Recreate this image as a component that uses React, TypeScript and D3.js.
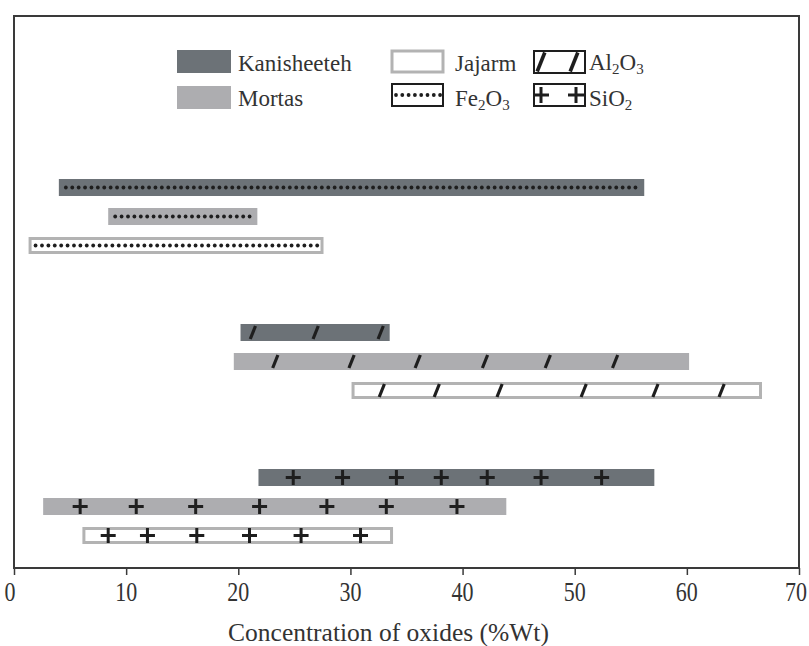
import {useEffect, useRef} from 'react';
import * as d3 from 'd3';

const series = ['Kanisheeteh', 'Mortas', 'Jajarm'];
const oxides = ['Fe2O3', 'Al2O3', 'SiO2'];

// ranges per oxide, in series order (Kanisheeteh, Mortas, Jajarm)
const fe2o3Min = [4.0, 8.4, 1.3];
const fe2o3Max = [56.2, 21.7, 27.6];
const al2o3Min = [20.2, 19.6, 30.1];
const al2o3Max = [33.5, 60.2, 66.7];
const sio2Min = [21.8, 2.6, 6.1];
const sio2Max = [57.1, 43.9, 33.8];

// positions of the pattern marks on the bars (%Wt)
const al2o3Marks = [
  [21.3, 26.9, 32.7],
  [23.3, 30.1, 36.0, 42.0, 47.6, 53.6],
  [32.8, 37.7, 43.3, 50.8, 57.2, 63.1],
];
const sio2Marks = [
  [24.9, 29.3, 34.1, 38.1, 42.2, 47.0, 52.4],
  [5.9, 10.9, 16.2, 21.9, 27.9, 33.2, 39.5],
  [8.4, 11.9, 16.3, 21.0, 25.6, 30.9],
];

const xTicks = [0, 10, 20, 30, 40, 50, 60, 70];

const App = () => {
  const svgRef = useRef<SVGSVGElement>(null);

  useEffect(() => {
    const width = 809;
    const height = 646;
    const frame = {left: 14, top: 16, right: 799, bottom: 568};
    const font = '"Liberation Serif", "Times New Roman", serif';
    const ink = '#1e1e1e';
    const fills = {Kanisheeteh: '#6c7277', Mortas: '#adadb0', Jajarm: '#ffffff'};
    const jajStroke = '#b3b3b3';

    const svg = d3.select(svgRef.current)
      .attr('width', width)
      .attr('height', height);
    svg.selectAll('*').remove();

    svg.append('rect').attr('width', width).attr('height', height).attr('fill', '#fff');

    const x = d3.scaleLinear().domain([0, 70]).range([frame.left, frame.right]);
    const yGroup = d3.scaleBand().domain(oxides).range([144, 579]);
    const yRow = d3.scalePoint().domain(series).range([-29, 29]);
    const barH = 17;

    const rows = [
      {oxide: 'Fe2O3', min: fe2o3Min, max: fe2o3Max, marks: null},
      {oxide: 'Al2O3', min: al2o3Min, max: al2o3Max, marks: al2o3Marks},
      {oxide: 'SiO2', min: sio2Min, max: sio2Max, marks: sio2Marks},
    ];

    const slash = (g, cx, cy, h, w = 3.2) => {
      g.append('line')
        .attr('x1', cx - h * 0.2).attr('y1', cy + h / 2)
        .attr('x2', cx + h * 0.2).attr('y2', cy - h / 2)
        .attr('stroke', ink).attr('stroke-width', w);
    };
    const plus = (g, cx, cy, s) => {
      g.append('path')
        .attr('d', `M${cx - s / 2},${cy}H${cx + s / 2}M${cx},${cy - s / 2}V${cy + s / 2}`)
        .attr('stroke', ink).attr('stroke-width', 3).attr('fill', 'none');
    };
    const dots = (g, x0, x1, cy, step) => {
      d3.range(x0, x1, step).forEach(cx => {
        g.append('circle').attr('cx', cx).attr('cy', cy).attr('r', 1.9).attr('fill', ink);
      });
    };

    const bars = svg.append('g');
    rows.forEach(row => {
      series.forEach((s, i) => {
        const cy = yGroup(row.oxide) + yGroup.bandwidth() / 2 + yRow(s);
        const x0 = x(row.min[i]);
        const x1 = x(row.max[i]);
        if (s === 'Jajarm') {
          bars.append('rect')
            .attr('x', x0 + 1.5).attr('y', cy - barH / 2 + 1.5)
            .attr('width', x1 - x0 - 3).attr('height', barH - 3)
            .attr('fill', fills[s]).attr('stroke', jajStroke).attr('stroke-width', 3);
        } else {
          bars.append('rect')
            .attr('x', x0).attr('y', cy - barH / 2)
            .attr('width', x1 - x0).attr('height', barH)
            .attr('fill', fills[s]);
        }
        if (row.oxide === 'Fe2O3') {
          dots(bars, x0 + 7, x1 - 3, cy, 6.4);
        } else if (row.oxide === 'Al2O3') {
          row.marks[i].forEach(v => slash(bars, x(v), cy, 13));
        } else {
          row.marks[i].forEach(v => plus(bars, x(v), cy, 15));
        }
      });
    });

    // frame
    svg.append('rect')
      .attr('x', frame.left).attr('y', frame.top)
      .attr('width', frame.right - frame.left).attr('height', frame.bottom - frame.top)
      .attr('fill', 'none').attr('stroke', '#3a3a3a').attr('stroke-width', 2);

    // x axis
    const axis = svg.append('g')
      .attr('transform', `translate(0, ${frame.bottom})`)
      .call(d3.axisBottom(x).tickValues(xTicks).tickSize(7).tickSizeOuter(0).tickFormat(''));
    axis.select('.domain').remove();
    axis.selectAll('.tick line').attr('stroke', '#3a3a3a').attr('stroke-width', 1.5);

    svg.append('g').selectAll('text')
      .data(xTicks)
      .enter().append('text')
      .attr('transform', d => {
        const tx = d === 0 ? x(d) - 4 : d === 70 ? x(d) - 3 : x(d);
        return `translate(${tx}, 601) scale(1, 1.22)`;
      })
      .attr('text-anchor', 'middle')
      .style('font-family', font)
      .style('font-size', '22px')
      .attr('fill', '#333')
      .text(d => d);

    svg.append('text')
      .attr('x', (frame.left + frame.right) / 2 - 18)
      .attr('y', 641)
      .attr('text-anchor', 'middle')
      .style('font-family', font)
      .style('font-size', '25.5px')
      .attr('fill', '#333')
      .text('Concentration of oxides (%Wt)');

    // legend
    const legend = svg.append('g');
    const lt = (tx, ty, parts) => {
      const t = legend.append('text')
        .attr('x', tx).attr('y', ty)
        .style('font-family', font).style('font-size', '23px').attr('fill', '#333');
      parts.forEach(p => {
        const sp = t.append('tspan').text(p.t);
        if (p.sub) sp.style('font-size', '15px').attr('dy', 4);
        else if (p.back) sp.attr('dy', -4);
      });
    };

    legend.append('rect').attr('x', 177).attr('y', 50).attr('width', 54).attr('height', 23).attr('fill', fills.Kanisheeteh);
    legend.append('rect').attr('x', 177).attr('y', 86).attr('width', 54).attr('height', 23).attr('fill', fills.Mortas);
    lt(238, 71, [{t: 'Kanisheeteh'}]);
    lt(238, 106, [{t: 'Mortas'}]);

    legend.append('rect').attr('x', 392).attr('y', 51).attr('width', 51).attr('height', 21)
      .attr('fill', '#fff').attr('stroke', jajStroke).attr('stroke-width', 3);
    lt(455, 71, [{t: 'Jajarm'}]);

    legend.append('rect').attr('x', 392).attr('y', 84).attr('width', 51).attr('height', 22)
      .attr('fill', '#fff').attr('stroke', ink).attr('stroke-width', 2);
    dots(legend, 396, 441, 95, 6.3);
    lt(455, 106, [{t: 'Fe'}, {t: '2', sub: true}, {t: 'O', back: true}, {t: '3', sub: true}]);

    legend.append('rect').attr('x', 534).attr('y', 51).attr('width', 51).attr('height', 22)
      .attr('fill', '#fff').attr('stroke', ink).attr('stroke-width', 2);
    slash(legend, 541, 62, 19, 3.6);
    slash(legend, 574, 62, 19, 3.6);
    lt(589, 70, [{t: 'Al'}, {t: '2', sub: true}, {t: 'O', back: true}, {t: '3', sub: true}]);

    legend.append('rect').attr('x', 534).attr('y', 84).attr('width', 51).attr('height', 22)
      .attr('fill', '#fff').attr('stroke', ink).attr('stroke-width', 2);
    plus(legend, 541, 95, 16);
    plus(legend, 576, 95, 16);
    lt(589, 106, [{t: 'SiO'}, {t: '2', sub: true}]);
  }, []);

  return <svg ref={svgRef} style={{position: 'absolute', left: 0, top: 0, display: 'block'}}/>;
};

export default App;
